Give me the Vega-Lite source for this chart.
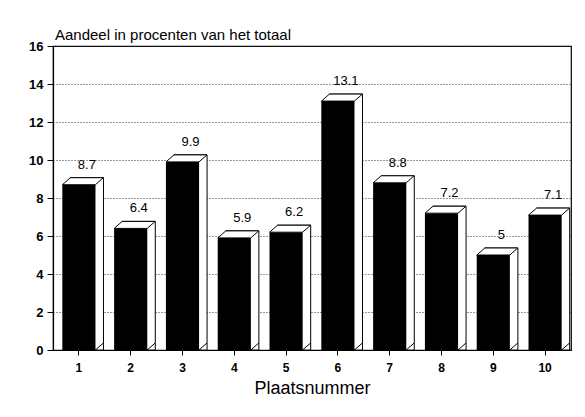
{
  "$schema": "https://vega.github.io/schema/vega-lite/v6.json",
  "autosize": {"type": "none"},
  "padding": {"left": 53, "top": 46, "right": 14, "bottom": 67},
  "width": 518,
  "height": 304,
  "background": "white",
  "config": {
    "font": "Liberation Sans",
    "view": {"stroke": "black", "strokeWidth": 1.2},
    "axis": {"labelColor": "black", "titleColor": "black", "domainColor": "black", "tickColor": "black", "labelFont": "Liberation Sans", "titleFont": "Liberation Sans"}
  },
  "title": {
    "text": "Aandeel in procenten van het totaal",
    "anchor": "start",
    "frame": "group",
    "fontSize": 15,
    "fontWeight": "normal",
    "color": "black",
    "offset": -3,
    "dx": 2
  },
  "data": {
    "values": [
      {"plaats": "1", "aandeel": 8.7},
      {"plaats": "2", "aandeel": 6.4},
      {"plaats": "3", "aandeel": 9.9},
      {"plaats": "4", "aandeel": 5.9},
      {"plaats": "5", "aandeel": 6.2},
      {"plaats": "6", "aandeel": 13.1},
      {"plaats": "7", "aandeel": 8.8},
      {"plaats": "8", "aandeel": 7.2},
      {"plaats": "9", "aandeel": 5},
      {"plaats": "10", "aandeel": 7.1}
    ]
  },
  "encoding": {
    "x": {
      "field": "plaats",
      "type": "ordinal",
      "sort": null,
      "scale": {"paddingInner": 0.36, "paddingOuter": 0.18},
      "axis": {
        "title": "Plaatsnummer",
        "titleFontSize": 18,
        "titleFontWeight": "normal",
        "titlePadding": 6,
        "labelAngle": 0,
        "labelFontSize": 12,
        "labelFontWeight": "bold",
        "labelPadding": 7,
        "tickSize": 5,
        "domainWidth": 1.2
      }
    },
    "y": {
      "field": "aandeel",
      "type": "quantitative",
      "scale": {"domain": [0, 16], "nice": false},
      "axis": {
        "title": null,
        "values": [0, 2, 4, 6, 8, 10, 12, 14, 16],
        "labelFontSize": 13,
        "labelFontWeight": "bold",
        "labelPadding": 4,
        "tickSize": 6,
        "domainWidth": 1.2,
        "gridDash": [1, 2],
        "gridColor": "#333",
        "gridWidth": 1
      }
    }
  },
  "layer": [
    {
      "mark": {"type": "bar", "fill": "white", "stroke": "black", "strokeWidth": 1, "xOffset": 8, "yOffset": -7, "y2Offset": 0},
      "encoding": {"y2": {"datum": 0}}
    },
    {
      "mark": {"type": "bar", "fill": "black", "stroke": null}
    },
    {
      "mark": {"type": "point", "shape": "M -0.673 0 L 0.673 0 L 1 -0.286 L -0.347 -0.286 Z", "size": 2401, "filled": true, "fill": "white", "stroke": "black", "strokeWidth": 1, "opacity": 1, "fillOpacity": 1, "strokeOpacity": 1}
    },
    {
      "mark": {"type": "point", "shape": "M 0.673 0 L 1 -0.286", "size": 2401, "filled": false, "fill": null, "stroke": "black", "strokeWidth": 1, "opacity": 1}
      ,"encoding": {"y": {"datum": 0, "type": "quantitative"}}
    },
    {
      "mark": {"type": "text", "fontSize": 13, "dx": 8, "dy": -16, "baseline": "alphabetic", "color": "black"},
      "encoding": {"text": {"field": "aandeel", "type": "quantitative"}}
    }
  ]
}
